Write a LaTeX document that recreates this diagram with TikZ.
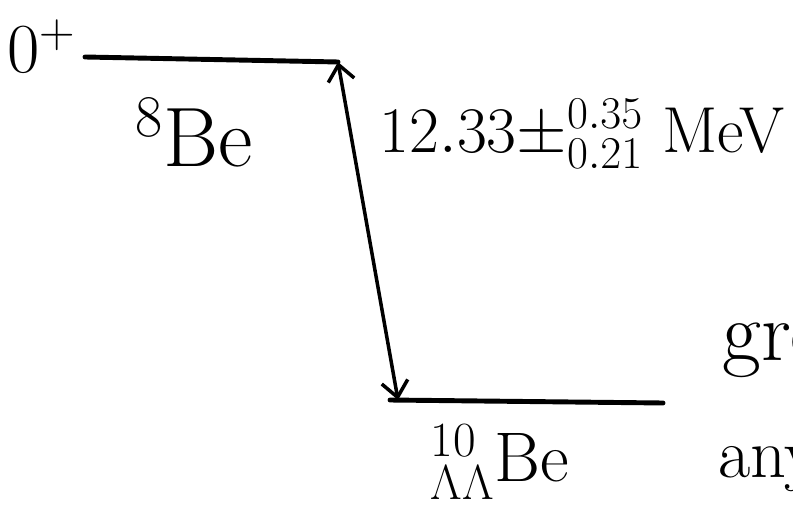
\RequirePackage{fix-cm}
\documentclass[tikz,border=0pt]{standalone}
\usepackage{tikz}
\usetikzlibrary{arrows.meta}

\begin{document}
\begin{tikzpicture}[
  x=0.02cm, y=-0.02cm,
  level/.style={line width=2.8pt, line cap=round},
  trans/.style={line width=2pt, line cap=round,
    {Straight Barb[length=9pt, width=15pt, line width=2pt]}-{Straight Barb[length=9pt, width=15pt, line width=2pt]}},
  lbl/.style={inner sep=0pt},
  big/.style={lbl, font=\fontsize{48}{52}\selectfont},
  mid/.style={lbl, font=\fontsize{40}{44}\selectfont},
  small/.style={lbl, font=\fontsize{37}{40}\selectfont}
]
\clip (0,0) rectangle (793,509);
% levels
\coordinate (be8-l) at (85,57);
\coordinate (be8-r) at (338,62);
\coordinate (be10-l) at (390,400);
\coordinate (be10-r) at (663,403);
\coordinate (be10-a) at (398,400);
\draw[level] (be8-l) -- (be8-r);
\draw[level] (be10-l) -- (be10-r);
\draw[trans] (be8-r) -- (be10-a);
% labels
\node[mid] (spin) at (42,46) {$0^{+}$};
\node[big] (be8) at (194,133) {$^{8}$Be};
\node[small] (energy) at (582,134) {$12.33\pm^{0.35}_{0.21}$ MeV};
\node[mid] (be10) at (500,462) {$^{10}_{\Lambda\Lambda}$Be};
\node[big, anchor=base west] (gr) at (722,360) {gro};
\node[mid, anchor=base west] (any) at (718,477) {any};
\end{tikzpicture}
\end{document}
